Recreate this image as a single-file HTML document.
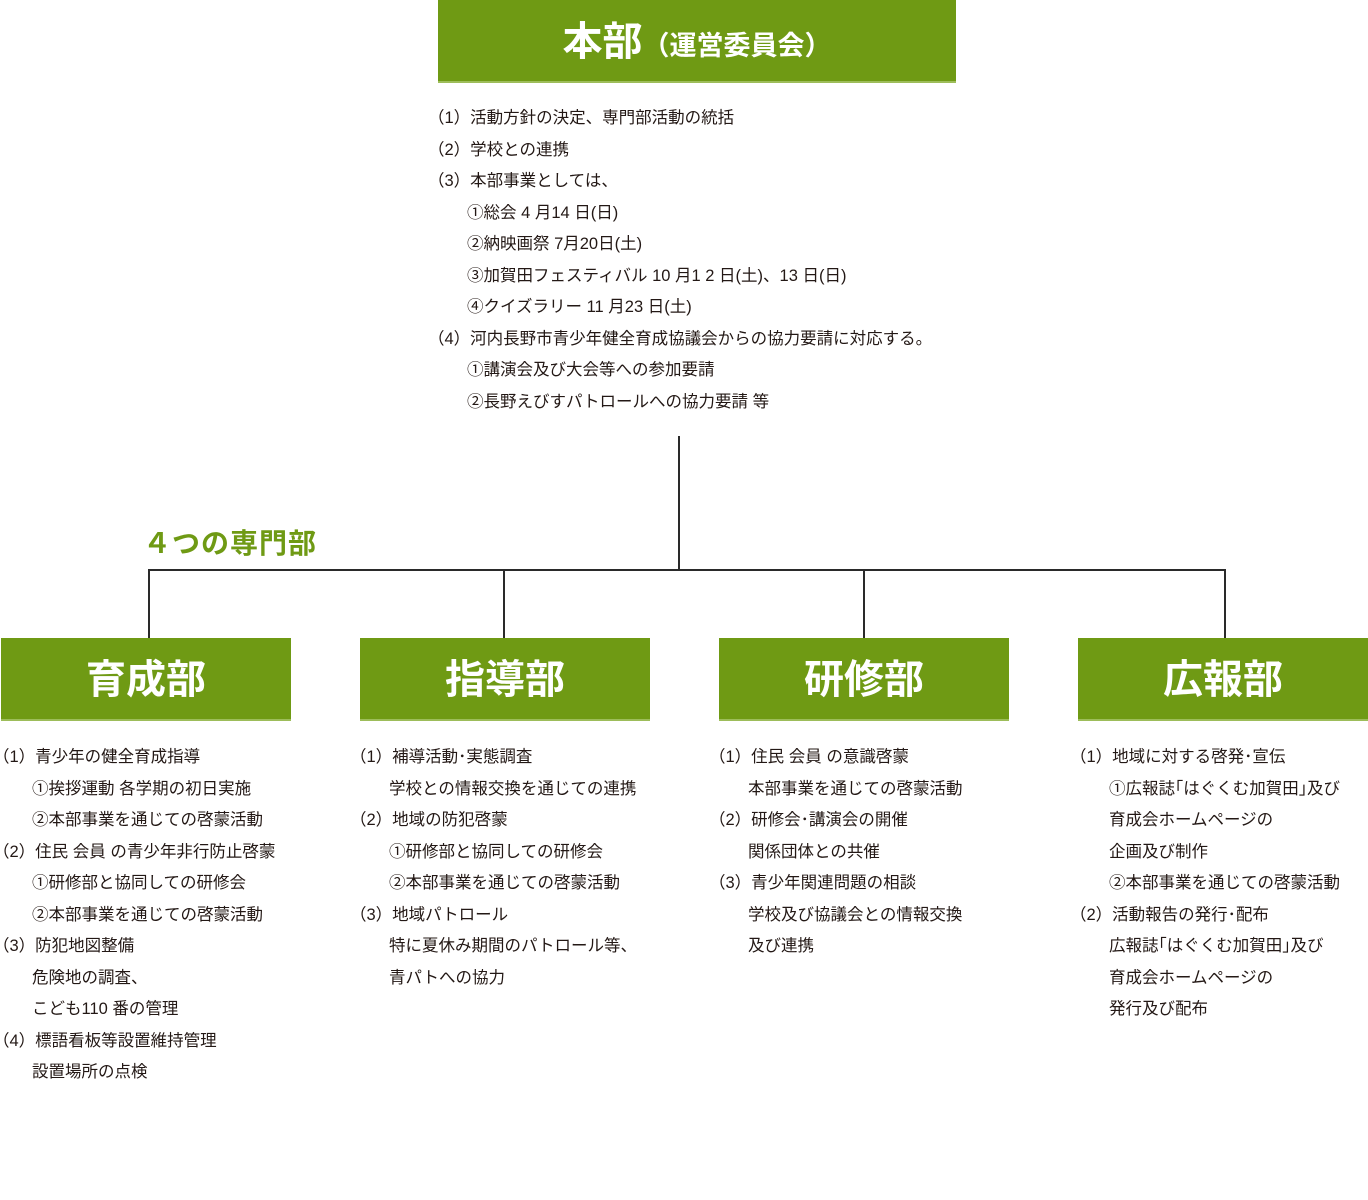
<!DOCTYPE html>
<html><head><meta charset="utf-8"><style>
body{margin:0;width:1368px;height:1200px;background:#fff;position:relative;font-family:"Liberation Sans","Noto Sans CJK JP",sans-serif;color:#231815;overflow:hidden}
.box{position:absolute;background:#6f9a14;color:#fff;font-weight:bold;text-align:center;border-bottom:2px solid #9dbd5a}
.ln{position:absolute;background:#2a2a2a}
.t{position:absolute;font-size:16.5px;line-height:31.5px;white-space:nowrap}
.i{padding-left:39px}
</style></head><body>
<div class="box" style="left:438px;top:0;width:518px;height:81px;line-height:84px"><span style="font-size:40px">本部</span><span style="font-size:27px">（運営委員会）</span></div>
<div class="t" style="left:428px;top:103px">
<div>（1）活動方針の決定、専門部活動の統括</div>
<div>（2）学校との連携</div>
<div>（3）本部事業としては、</div>
<div class="i">①総会 4 月14 日(日)</div>
<div class="i">②納映画祭 7月20日(土)</div>
<div class="i">③加賀田フェスティバル 10 月1 2 日(土)、13 日(日)</div>
<div class="i">④クイズラリー 11 月23 日(土)</div>
<div>（4）河内長野市青少年健全育成協議会からの協力要請に対応する。</div>
<div class="i">①講演会及び大会等への参加要請</div>
<div class="i">②長野えびすパトロールへの協力要請 等</div>
</div>
<div class="ln" style="left:678px;top:436px;width:2px;height:135px"></div>
<div class="ln" style="left:148px;top:569px;width:1078px;height:2px"></div>
<div class="ln" style="left:148px;top:569px;width:2px;height:70px"></div>
<div class="ln" style="left:503px;top:569px;width:2px;height:70px"></div>
<div class="ln" style="left:863px;top:569px;width:2px;height:70px"></div>
<div class="ln" style="left:1224px;top:569px;width:2px;height:70px"></div>
<div style="position:absolute;left:143px;top:522px;font-size:28px;font-weight:bold;color:#6f9a14;letter-spacing:1px">４つの専門部</div>
<div class="box" style="left:1px;top:638px;width:290px;height:81px;line-height:84px;font-size:40px">育成部</div>
<div class="box" style="left:360px;top:638px;width:290px;height:81px;line-height:84px;font-size:40px">指導部</div>
<div class="box" style="left:719px;top:638px;width:290px;height:81px;line-height:84px;font-size:40px">研修部</div>
<div class="box" style="left:1078px;top:638px;width:290px;height:81px;line-height:84px;font-size:40px">広報部</div>
<div class="t" style="left:-7px;top:742px">
<div>（1）青少年の健全育成指導</div>
<div class="i">①挨拶運動 各学期の初日実施</div>
<div class="i">②本部事業を通じての啓蒙活動</div>
<div>（2）住民 会員 の青少年非行防止啓蒙</div>
<div class="i">①研修部と協同しての研修会</div>
<div class="i">②本部事業を通じての啓蒙活動</div>
<div>（3）防犯地図整備</div>
<div class="i">危険地の調査、</div>
<div class="i">こども110 番の管理</div>
<div>（4）標語看板等設置維持管理</div>
<div class="i">設置場所の点検</div>
</div>
<div class="t" style="left:350px;top:742px">
<div>（1）補導活動･実態調査</div>
<div class="i">学校との情報交換を通じての連携</div>
<div>（2）地域の防犯啓蒙</div>
<div class="i">①研修部と協同しての研修会</div>
<div class="i">②本部事業を通じての啓蒙活動</div>
<div>（3）地域パトロール</div>
<div class="i">特に夏休み期間のパトロール等、</div>
<div class="i">青パトへの協力</div>
</div>
<div class="t" style="left:709px;top:742px">
<div>（1）住民 会員 の意識啓蒙</div>
<div class="i">本部事業を通じての啓蒙活動</div>
<div>（2）研修会･講演会の開催</div>
<div class="i">関係団体との共催</div>
<div>（3）青少年関連問題の相談</div>
<div class="i">学校及び協議会との情報交換</div>
<div class="i">及び連携</div>
</div>
<div class="t" style="left:1070px;top:742px">
<div>（1）地域に対する啓発･宣伝</div>
<div class="i">①広報誌｢はぐくむ加賀田｣及び</div>
<div class="i">育成会ホームページの</div>
<div class="i">企画及び制作</div>
<div class="i">②本部事業を通じての啓蒙活動</div>
<div>（2）活動報告の発行･配布</div>
<div class="i">広報誌｢はぐくむ加賀田｣及び</div>
<div class="i">育成会ホームページの</div>
<div class="i">発行及び配布</div>
</div>
</body></html>
